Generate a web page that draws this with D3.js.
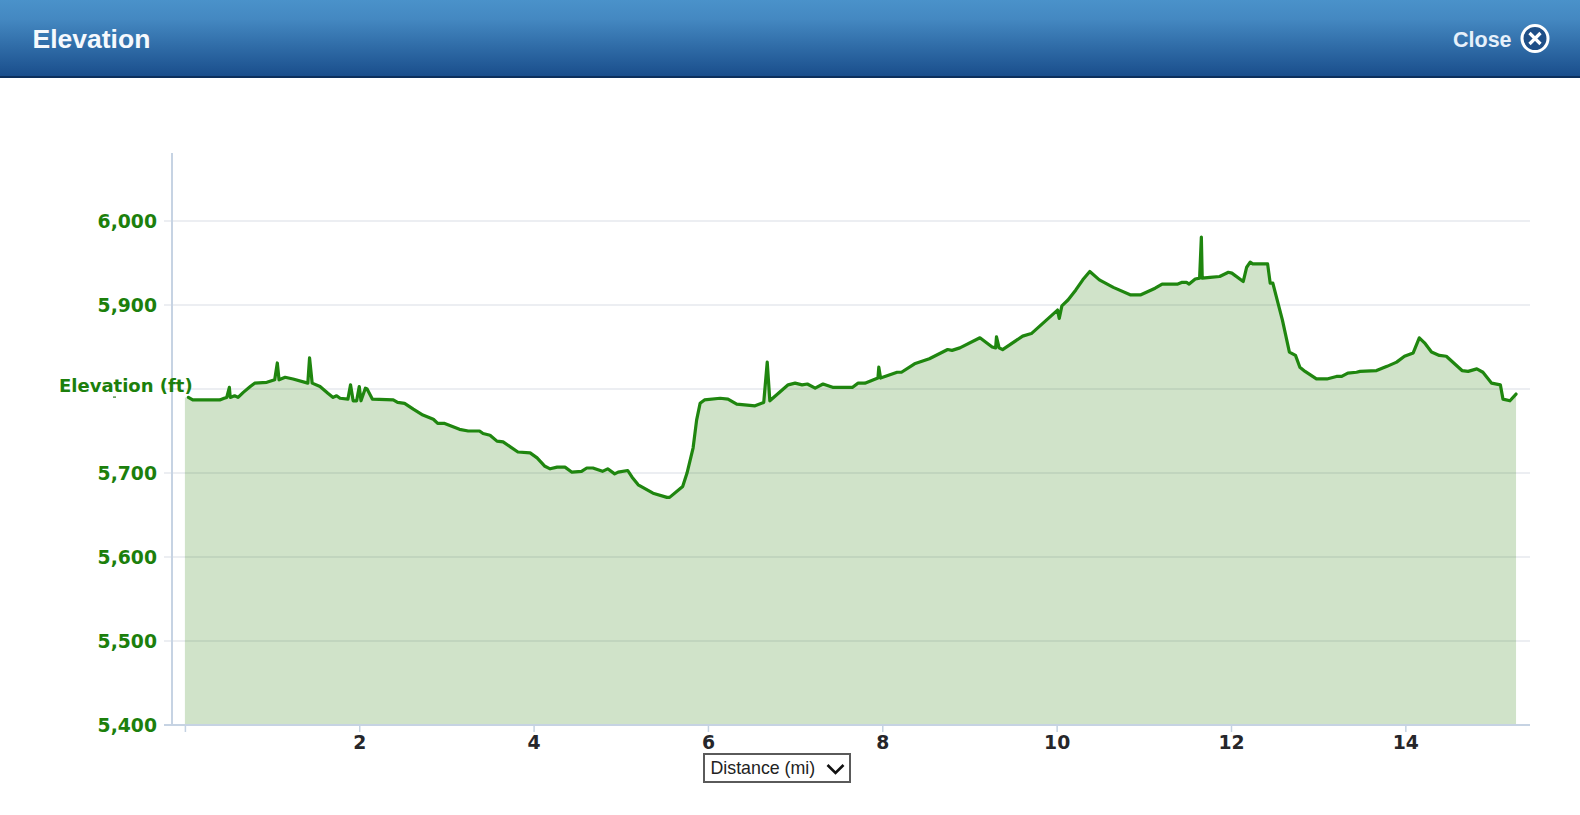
<!DOCTYPE html>
<html lang="en">
<head>
  <meta charset="UTF-8" />
  <title>Elevation</title>
  <script src="https://d3js.org/d3.v7.min.js"></script>
  <style>
    html, body {margin: 0; padding: 0; background: #fff; overflow: hidden;}
    svg {display: block;}
    .tick-y text {font-family: "DejaVu Sans", sans-serif; font-weight: bold; font-size: 18.8px; fill: #1c7f0c;}
    .tick-x text {font-family: "DejaVu Sans", sans-serif; font-weight: bold; font-size: 18.8px; fill: #26262a;}
  </style>
</head>
<body>
<script>
  // distance along the route (mi)
  const distance = [
    0, 0.04, 0.09, 0.40, 0.45, 0.48, 0.51, 0.52, 0.57, 0.61, 0.67, 0.75, 0.80, 0.94, 1.03, 1.06, 1.08, 1.15, 1.24, 1.41,
    1.43, 1.46, 1.55, 1.64, 1.70, 1.74, 1.78, 1.87, 1.90, 1.93, 1.97, 2.00, 2.02, 2.07, 2.09, 2.15, 2.39, 2.44, 2.52, 2.62,
    2.73, 2.85, 2.90, 2.98, 3.15, 3.25, 3.38, 3.42, 3.50, 3.58, 3.65, 3.82, 3.96, 4.04, 4.13, 4.19, 4.27, 4.36, 4.44, 4.55,
    4.61, 4.68, 4.79, 4.85, 4.93, 4.97, 5.08, 5.13, 5.20, 5.37, 5.53, 5.56, 5.71, 5.76, 5.83, 5.87, 5.91, 5.96, 6.14, 6.23,
    6.33, 6.54, 6.64, 6.68, 6.71, 6.92, 7.00, 7.08, 7.14, 7.23, 7.32, 7.43, 7.66, 7.72, 7.80, 7.95, 7.96, 7.98, 8.17, 8.22,
    8.37, 8.54, 8.75, 8.80, 8.89, 9.12, 9.26, 9.30, 9.31, 9.34, 9.38, 9.61, 9.71, 10.01, 10.03, 10.06, 10.13, 10.22, 10.30, 10.38,
    10.49, 10.65, 10.85, 10.96, 11.13, 11.21, 11.39, 11.44, 11.49, 11.52, 11.59, 11.64, 11.66, 11.67, 11.76, 11.87, 11.97, 12.01, 12.14, 12.18,
    12.22, 12.25, 12.42, 12.45, 12.48, 12.54, 12.59, 12.67, 12.74, 12.79, 12.85, 12.98, 13.10, 13.21, 13.27, 13.34, 13.44, 13.48, 13.67, 13.79,
    13.90, 13.99, 14.09, 14.16, 14.22, 14.30, 14.39, 14.47, 14.65, 14.72, 14.82, 14.89, 14.99, 15.09, 15.12, 15.20, 15.27
  ];

  // elevation at each distance (ft)
  const elevation = [
    5790, 5790, 5787, 5787, 5789, 5790, 5802, 5790, 5792, 5790, 5796, 5803, 5807, 5808, 5811, 5831, 5811, 5814, 5812, 5807,
    5837, 5807, 5803, 5795, 5790, 5792, 5789, 5788, 5805, 5786, 5786, 5803, 5786, 5801, 5800, 5788, 5787, 5784, 5783, 5776,
    5769, 5764, 5759, 5759, 5752, 5750, 5750, 5747, 5745, 5738, 5737, 5725, 5724, 5718, 5708, 5705, 5707, 5707, 5701, 5702,
    5706, 5706, 5702, 5705, 5699, 5701, 5703, 5695, 5686, 5676, 5671, 5671, 5684, 5700, 5730, 5763, 5783, 5787, 5789, 5788,
    5782, 5780, 5784, 5832, 5786, 5805, 5807, 5805, 5806, 5801, 5806, 5802, 5802, 5807, 5807, 5813, 5826, 5813, 5820, 5820,
    5830, 5836, 5847, 5846, 5849, 5861, 5850, 5849, 5862, 5849, 5847, 5863, 5866, 5894, 5884, 5899, 5906, 5918, 5930, 5940,
    5930, 5921, 5912, 5912, 5920, 5925, 5925, 5927, 5927, 5925, 5931, 5932, 5981, 5932, 5933, 5934, 5939, 5938, 5928, 5945,
    5951, 5949, 5949, 5926, 5926, 5902, 5882, 5844, 5840, 5826, 5821, 5812, 5812, 5815, 5815, 5819, 5820, 5821, 5822, 5827,
    5832, 5839, 5843, 5861, 5855, 5844, 5840, 5839, 5822, 5821, 5824, 5820, 5807, 5805, 5788, 5786, 5794
  ];

  const distanceTicks = [0, 2, 4, 6, 8, 10, 12, 14];
  const elevationTicks = [5400, 5500, 5600, 5700, 5900, 6000];
  const gridValues = [5500, 5600, 5700, 5800, 5900, 6000];

  const width = 1580;
  const height = 815;
  const headerHeight = 78;
  const axisLeft = 172;
  const plotRight = 1530;
  const plotTop = 153;
  const plotBottom = 725;

  const points = distance.map((d, i) => ({dist: d, elev: elevation[i]}));

  const svg = d3.select("body")
                .append("svg")
                .attr("width", width)
                .attr("height", height);

  //****HEADER****
  const defs = svg.append("defs");
  const headerGrad = defs.append("linearGradient")
                         .attr("id", "header-grad")
                         .attr("x1", 0).attr("y1", 0)
                         .attr("x2", 0).attr("y2", 1);
  headerGrad.append("stop").attr("offset", "0%").attr("stop-color", "#4a92ca");
  headerGrad.append("stop").attr("offset", "25%").attr("stop-color", "#4488c1");
  headerGrad.append("stop").attr("offset", "100%").attr("stop-color", "#194d8b");

  svg.append("rect")
     .attr("width", width)
     .attr("height", headerHeight - 1)
     .attr("fill", "url(#header-grad)");

  svg.append("rect")
     .attr("y", headerHeight - 2)
     .attr("width", width)
     .attr("height", 2)
     .attr("fill", "#0c2f5c");

  svg.append("text")
     .attr("x", 32.5)
     .attr("y", 48)
     .attr("font-family", "'Liberation Sans', Arial, sans-serif")
     .attr("font-weight", "bold")
     .attr("font-size", "26.5px")
     .attr("fill", "#f6f9fd")
     .text("Elevation");

  svg.append("text")
     .attr("x", 1453)
     .attr("y", 46.5)
     .attr("font-family", "'Liberation Sans', Arial, sans-serif")
     .attr("font-weight", "bold")
     .attr("font-size", "21.5px")
     .attr("fill", "#e6f0fa")
     .text("Close");

  const closeIcon = svg.append("g").attr("transform", "translate(1535, 38.5)");
  closeIcon.append("circle")
           .attr("r", 13)
           .attr("fill", "#1f4f87")
           .attr("stroke", "#fff")
           .attr("stroke-width", 3);
  closeIcon.append("path")
           .attr("d", "M-5.5,-5.5L5.5,5.5M5.5,-5.5L-5.5,5.5")
           .attr("stroke", "#fff")
           .attr("stroke-width", 3.2)
           .attr("fill", "none");

  //****SCALES****
  const xScale = d3.scaleLinear()
                   .domain([0, 15.43])
                   .range([184.9, plotRight]);

  const yScale = d3.scaleLinear()
                   .domain([5400, 6081])
                   .range([plotBottom, plotTop]);

  //****GRID****
  svg.append("g")
     .selectAll("line")
     .data(gridValues)
     .join("line")
     .attr("x1", 164)
     .attr("x2", plotRight)
     .attr("y1", (d) => yScale(d))
     .attr("y2", (d) => yScale(d))
     .attr("stroke", "#eceef2")
     .attr("stroke-width", 2);

  //****AREA AND LINE****
  const areaGenerator = d3.area()
                          .x((d) => xScale(d.dist))
                          .y0(plotBottom)
                          .y1((d) => yScale(d.elev));

  const lineGenerator = d3.line()
                          .x((d) => xScale(d.dist))
                          .y((d) => yScale(d.elev));

  svg.append("path")
     .attr("d", areaGenerator(points))
     .attr("fill", "#237a00")
     .attr("fill-opacity", 0.21);

  svg.append("path")
     .attr("d", lineGenerator(points.slice(1)))
     .attr("fill", "none")
     .attr("stroke", "#1f860f")
     .attr("stroke-width", 3.2)
     .attr("stroke-linejoin", "round")
     .attr("stroke-linecap", "round");

  //****AXES****
  const xAxis = d3.axisBottom(xScale)
                  .tickValues(distanceTicks)
                  .tickFormat((d) => d === 0 ? "" : d)
                  .tickSize(7)
                  .tickPadding(4);

  const yAxis = d3.axisLeft(yScale)
                  .tickValues(elevationTicks)
                  .tickFormat(d3.format(","))
                  .tickSize(0)
                  .tickPadding(15);

  const xG = svg.append("g")
                .attr("class", "tick-x")
                .attr("transform", `translate(0, ${plotBottom})`)
                .call(xAxis);
  xG.select(".domain").remove();
  xG.selectAll("line").attr("stroke", "#c4d2e2").attr("stroke-width", 1.5);
  xG.selectAll("text").attr("y", 11).attr("dy", "0.71em");

  const yG = svg.append("g")
                .attr("class", "tick-y")
                .attr("transform", `translate(${axisLeft}, 0)`)
                .call(yAxis);
  yG.select(".domain").remove();

  svg.append("line")
     .attr("x1", axisLeft).attr("x2", axisLeft)
     .attr("y1", plotTop).attr("y2", plotBottom + 1)
     .attr("stroke", "#c6d3e3")
     .attr("stroke-width", 2);

  svg.append("line")
     .attr("x1", 164).attr("x2", plotRight)
     .attr("y1", plotBottom).attr("y2", plotBottom)
     .attr("stroke", "#c6d3e3")
     .attr("stroke-width", 2);

  //****AXIS TITLE****
  svg.append("text")
     .attr("x", 59)
     .attr("y", 391.5)
     .attr("font-family", "'DejaVu Sans', sans-serif")
     .attr("font-weight", "bold")
     .attr("font-size", "18px")
     .attr("fill", "#1c7f0c")
     .text("Elevation (ft)");

  // small leftover speck under the axis title
  svg.append("rect")
     .attr("x", 113)
     .attr("y", 396.5)
     .attr("width", 3)
     .attr("height", 1.2)
     .attr("fill", "#2c7a20");

  //****DISTANCE DROPDOWN****
  const dropdown = svg.append("g").attr("transform", "translate(704, 754)");
  dropdown.append("rect")
          .attr("width", 146)
          .attr("height", 28)
          .attr("fill", "#fff")
          .attr("stroke", "#5a5a5a")
          .attr("stroke-width", 2);
  dropdown.append("text")
          .attr("x", 6.5)
          .attr("y", 20)
          .attr("font-family", "'Liberation Sans', Arial, sans-serif")
          .attr("font-size", "17.8px")
          .attr("fill", "#222")
          .text("Distance (mi)");
  dropdown.append("path")
          .attr("d", "M123.5,11L131.5,19L139.5,11")
          .attr("fill", "none")
          .attr("stroke", "#111")
          .attr("stroke-width", 2.6);
</script>
</body>
</html>
